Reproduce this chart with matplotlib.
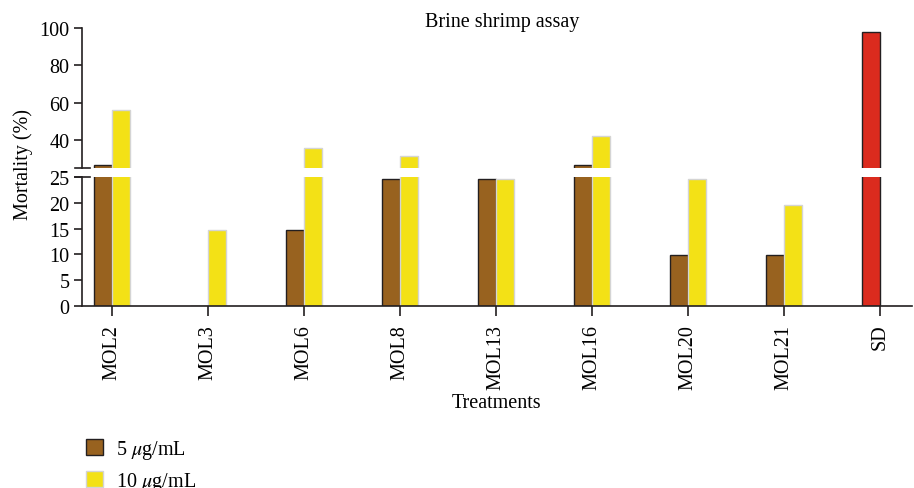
import numpy as np
import matplotlib
matplotlib.use('Agg')
from matplotlib import pyplot as plt

plt.rcParams['font.family'] = ['Liberation Serif', 'DejaVu Serif']
plt.rcParams['mathtext.fontset'] = 'stix'

treatments = ['MOL2', 'MOL3', 'MOL6', 'MOL8', 'MOL13', 'MOL16', 'MOL20', 'MOL21', 'SD']
dose5 = [26.9, 0, 14.7, 24.6, 24.6, 26.9, 9.9, 9.9, 97.6]
dose10 = [56.4, 14.7, 36.2, 31.6, 24.6, 42.4, 24.6, 19.6, 0]
labels = ['5 $\\mu$g/mL', '10 $\\mu$g/mL']

brown = '#98621f'
yellow = '#f3e116'
red = '#db2b1e'
dark = '#231f20'
w = 0.1875
fs = 14.5

x = np.arange(len(treatments))
c5 = [brown] * (len(treatments) - 1) + [red]

fig = plt.figure(figsize=(9.14, 4.89), dpi=100)
left = 82 / 914
width = 830 / 914
ax_lo = fig.add_axes([left, 1 - 306.7 / 489, width, (306.7 - 178.3) / 489])
ax_hi = fig.add_axes([left, 1 - 169 / 489, width, (169 - 29) / 489])

for ax in (ax_lo, ax_hi):
    ax.bar(x, dose5, width=-w, align='edge', color=c5, edgecolor=dark, linewidth=1.0)
    ax.bar(x, dose10, width=w, align='edge', color=yellow, edgecolor='#d4d4d4', linewidth=1.0)
    ax.set_xlim(-0.3125, 8.333)
    for s in ['top', 'right']:
        ax.spines[s].set_visible(False)
    ax.spines['left'].set_linewidth(1.2)
    ax.spines['left'].set_color(dark)
    ax.tick_params(axis='y', direction='out', length=6, width=1.2, color=dark, labelsize=fs, pad=3)

ax_lo.set_ylim(0, 25)
ax_lo.set_yticks([0, 5, 10, 15, 20, 25])
ax_lo.spines['bottom'].set_linewidth(1.2)
ax_lo.spines['bottom'].set_color(dark)
ax_lo.set_xticks(x)
ax_lo.set_xticklabels(treatments, rotation=90, fontsize=fs)
ax_lo.tick_params(axis='x', direction='out', length=7, width=1.2, color=dark, pad=6)
ax_lo.set_xlabel('Treatments', fontsize=fs, labelpad=3)

ax_hi.set_ylim(25.3, 100)
ax_hi.set_yticks([40, 60, 80, 100])
ax_hi.spines['bottom'].set_visible(False)
ax_hi.set_xticks([])

# break marks: short horizontal lines across the y axis
kw = dict(color=dark, lw=1.2, clip_on=False)
ax_hi.plot([-7 / 830, 8 / 830], [0, 0], transform=ax_hi.transAxes, **kw)
ax_lo.plot([-7 / 830, 8 / 830], [1, 1], transform=ax_lo.transAxes, **kw)

fig.text(0.025, 1 - 165 / 489, 'Mortality (%)', rotation=90, ha='center', va='center', fontsize=fs)
fig.text(502 / 914, 1 - 22 / 489, 'Brine shrimp assay', ha='center', va='center', fontsize=fs)

handles = [plt.Rectangle((0, 0), 1, 1, facecolor=brown, edgecolor=dark, linewidth=1.0),
           plt.Rectangle((0, 0), 1, 1, facecolor=yellow, edgecolor='#d4d4d4', linewidth=1.0)]
fig.legend(handles, labels, loc='upper left', bbox_to_anchor=(86 / 914, 1 - 439 / 489),
           frameon=False, fontsize=fs, handlelength=0.85, handleheight=0.85,
           labelspacing=0.45, handletextpad=0.65, borderaxespad=0, borderpad=0)

fig.savefig('out.png', dpi=100)
